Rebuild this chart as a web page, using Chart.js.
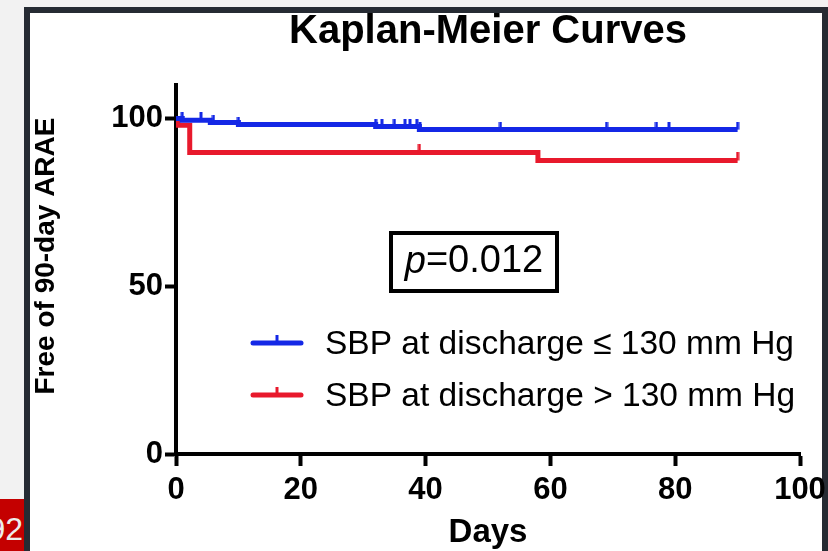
<!DOCTYPE html>
<html><head><meta charset="utf-8">
<script src="https://cdn.jsdelivr.net/npm/chart.js@4"></script>
<style>
html,body{margin:0;padding:0;width:828px;height:551px;overflow:hidden;background:#f2f2f2;}
#frame{position:absolute;left:24px;top:7px;width:804px;height:544px;border:6px solid #262b33;border-bottom:none;background:#fff;box-sizing:border-box;}
#tag{position:absolute;left:0;top:499px;width:24px;height:52px;background:#c40000;overflow:hidden;}
#tag span{position:absolute;right:1px;top:14px;font:32px "Liberation Sans",Arial,sans-serif;color:#ececec;line-height:32px;}
#c{position:absolute;left:0;top:0;}
</style></head>
<body>
<div id="frame"></div>
<div id="tag"><span>92</span></div>
<canvas id="c" width="828" height="551"></canvas>
<script>
// ---- data ----
const TITLE = "Kaplan-Meier Curves";
const X_TITLE = "Days";
const Y_TITLE = "Free of 90-day ARAE";
const P_TEXT_ITALIC = "p";
const P_TEXT = "=0.012";
const seriesLabels = ["SBP at discharge \u2264 130 mm Hg", "SBP at discharge > 130 mm Hg"];
const xTicks = [0, 20, 40, 60, 80, 100];
const yTicks = [0, 50, 100];

// SBP <= 130 (blue): event days and survival after each event
const blueEventDays = [0, 1, 5.5, 10, 32, 39];
const blueSurv      = [100, 99.5, 98.8, 98.2, 97.6, 96.7];
const blueCensorDays = [1, 4, 6, 10, 32, 33, 35, 36.7, 37.5, 38.6, 39.1, 52, 69, 77, 79, 90];

// SBP > 130 (red)
const redEventDays = [0, 0.3, 2.2, 58];
const redSurv      = [100, 98, 89.9, 87.5];
const redCensorDays = [39, 90];

const BLUE = "#1428e6";
const RED = "#e8192c";
const FONT = '"Liberation Sans", Arial, Helvetica, sans-serif';

function survAt(days, surv, t) {
  let v = surv[0];
  for (let i = 0; i < days.length; i++) if (days[i] <= t) v = surv[i];
  return v;
}
function lineData(days, surv, censor) {
  const pts = days.map((d, i) => ({x: d, y: surv[i]}));
  const end = Math.max(...censor);
  pts.push({x: end, y: survAt(days, surv, end)});
  return pts;
}
function censorData(days, surv, censor) {
  return censor.map(t => ({x: t, y: survAt(days, surv, t)}));
}
function tickImg(color) {
  const c = document.createElement('canvas');
  c.width = 4; c.height = 16;
  const g = c.getContext('2d');
  g.fillStyle = color;
  g.fillRect(0.5, 0, 3, 8);
  return c;
}
const blueTick = tickImg(BLUE), redTick = tickImg(RED);

const annot = {
  id: 'annot',
  afterDraw(chart) {
    const {ctx, chartArea: a} = chart;
    const cx = (a.left + a.right) / 2;
    ctx.save();
    ctx.fillStyle = '#000';
    ctx.textAlign = 'center';
    ctx.textBaseline = 'middle';
    ctx.font = 'bold 40px ' + FONT;
    ctx.fillText(TITLE, cx, 32);
    ctx.font = 'bold 33px ' + FONT;
    ctx.fillText(X_TITLE, cx, 533);
    // y title
    ctx.save();
    ctx.translate(46, 256);
    ctx.rotate(-Math.PI / 2);
    ctx.font = 'bold 28px ' + FONT;
    ctx.fillText(Y_TITLE, 0, 0);
    ctx.restore();
    // p box
    ctx.lineWidth = 4;
    ctx.strokeStyle = '#000';
    ctx.strokeRect(391, 233, 166, 58);
    ctx.textAlign = 'left';
    ctx.font = 'italic 38px ' + FONT;
    const pw = ctx.measureText(P_TEXT_ITALIC).width;
    ctx.font = '38px ' + FONT;
    const tw = ctx.measureText(P_TEXT).width;
    const sx = 474 - (pw + tw) / 2;
    ctx.font = 'italic 38px ' + FONT;
    ctx.fillText(P_TEXT_ITALIC, sx, 262);
    ctx.font = '38px ' + FONT;
    ctx.fillText(P_TEXT, sx + pw, 262);
    // legend
    const rows = [[BLUE, 343], [RED, 395]];
    rows.forEach(([col, y], i) => {
      ctx.strokeStyle = col;
      ctx.lineWidth = 5;
      ctx.lineCap = 'round';
      ctx.beginPath(); ctx.moveTo(253, y); ctx.lineTo(301, y); ctx.stroke();
      ctx.lineCap = 'butt';
      ctx.lineWidth = 3;
      ctx.beginPath(); ctx.moveTo(277, y); ctx.lineTo(277, y - 8); ctx.stroke();
      ctx.fillStyle = '#000';
      ctx.font = '33.5px ' + FONT;
      ctx.fillText(seriesLabels[i], 325, y + 2);
    });
    ctx.restore();
  }
};

new Chart(document.getElementById('c'), {
  type: 'line',
  data: {
    datasets: [
      {label: seriesLabels[0], data: lineData(blueEventDays, blueSurv, blueCensorDays), borderColor: BLUE, borderWidth: 5, stepped: true, pointRadius: 0, fill: false, order: 1},
      {label: seriesLabels[0] + ' censored', data: censorData(blueEventDays, blueSurv, blueCensorDays), showLine: false, pointStyle: blueTick, pointRadius: 4, order: 0},
      {label: seriesLabels[1], data: lineData(redEventDays, redSurv, redCensorDays), borderColor: RED, borderWidth: 5, stepped: true, pointRadius: 0, fill: false, order: 3},
      {label: seriesLabels[1] + ' censored', data: censorData(redEventDays, redSurv, redCensorDays), showLine: false, pointStyle: redTick, pointRadius: 4, order: 2}
    ]
  },
  options: {
    responsive: false,
    animation: false,
    devicePixelRatio: 1,
    events: [],
    layout: {padding: {left: 0, right: 28, top: 85, bottom: 0}},
    plugins: {legend: {display: false}, tooltip: {enabled: false}, title: {display: false}},
    scales: {
      x: {
        type: 'linear', min: 0, max: 100,
        afterBuildTicks: s => { s.ticks = xTicks.map(v => ({value: v})); },
        afterFit: s => { s.height = 97; s.paddingRight = 0; s.paddingLeft = 0; },
        grid: {drawOnChartArea: false, drawTicks: true, tickLength: 12, tickWidth: 4, tickColor: '#000'},
        border: {display: true, color: '#000', width: 4},
        ticks: {color: '#000', font: {family: FONT, size: 31, weight: 'bold'}, padding: 6, maxRotation: 0, autoSkip: false}
      },
      y: {
        type: 'linear', min: 0, max: 110,
        afterBuildTicks: s => { s.ticks = yTicks.map(v => ({value: v})); },
        afterFit: s => { s.width = 176; s.paddingTop = 0; s.paddingBottom = 0; },
        grid: {drawOnChartArea: false, drawTicks: true, tickLength: 11, tickWidth: 4, tickColor: '#000'},
        border: {display: true, color: '#000', width: 4},
        ticks: {color: '#000', font: {family: FONT, size: 31, weight: 'bold'}, padding: 2}
      }
    }
  },
  plugins: [annot]
});
</script>
</body></html>
